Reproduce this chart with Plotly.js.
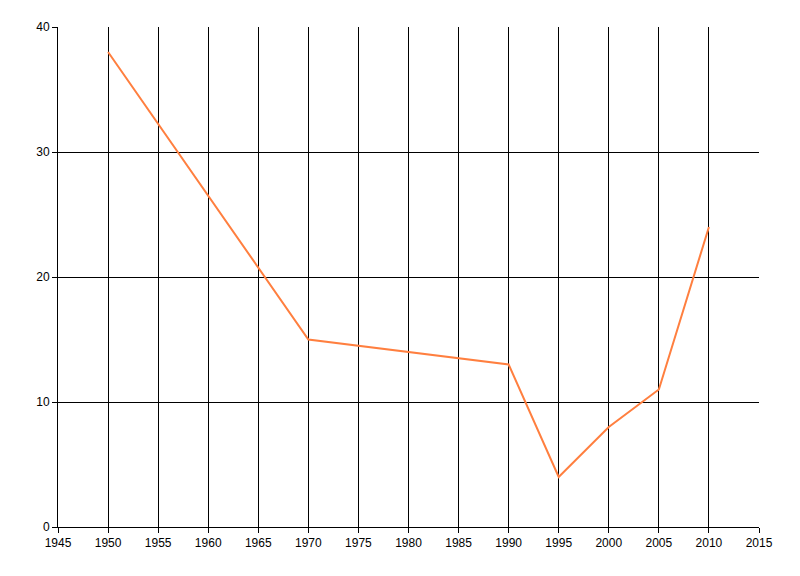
<!DOCTYPE html>
<html>
<head>
<meta charset="utf-8">
<script src="https://cdn.plot.ly/plotly-3.0.1.min.js"></script>
<style>
  html, body { margin: 0; padding: 0; background: #fff; }
  #myGraph { width: 800px; height: 576px; }
</style>
</head>
<body>
<div id="myGraph"></div>
<script>
let myGraph = document.getElementById('myGraph');

// 資料
let years = [1950, 1970, 1990, 1995, 2000, 2005, 2010];
let values = [38, 15, 13, 4, 8, 11, 24];

let trace1 = {
  type: "scatter",
  mode: "lines",
  x: years,
  y: values,
  line: { color: "#ff7f3f", width: 2 },
  hoverinfo: "none",
};

let axisFont = { family: "Liberation Sans, DejaVu Sans, sans-serif", size: 12, color: "#000" };

let layout = {
  width: 800,
  height: 576,
  margin: { l: 58, r: 41, t: 27, b: 49 },
  paper_bgcolor: "#fff",
  plot_bgcolor: "#fff",
  showlegend: false,
  xaxis: {
    range: [1945, 2015],
    tick0: 1945,
    dtick: 5,
    showgrid: true,
    gridcolor: "#000",
    gridwidth: 1,
    zeroline: false,
    showline: true,
    linecolor: "#000",
    linewidth: 1,
    ticks: "outside",
    ticklen: 5,
    tickcolor: "#000",
    tickfont: axisFont,
  },
  yaxis: {
    range: [0, 40],
    tick0: 0,
    dtick: 10,
    showgrid: true,
    gridcolor: "#000",
    gridwidth: 1,
    zeroline: false,
    showline: true,
    linecolor: "#000",
    linewidth: 1,
    ticks: "outside",
    ticklen: 5,
    tickcolor: "#000",
    tickfont: axisFont,
  },
};

Plotly.newPlot(myGraph, [trace1], layout, { staticPlot: true });
</script>
</body>
</html>
